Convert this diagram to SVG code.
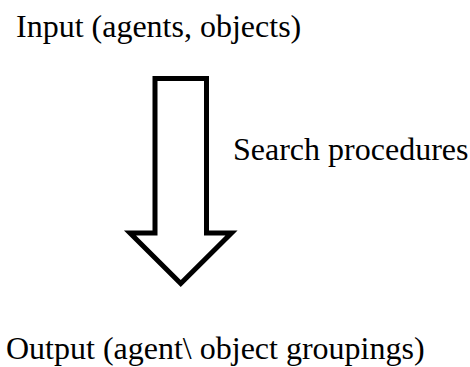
<svg xmlns="http://www.w3.org/2000/svg" width="470" height="367" viewBox="0 0 470 367">
<style>
.t{font-family:"Liberation Serif","Times New Roman",serif;font-size:32px;fill:#000}
.arrow{fill:#fff;stroke:#000;stroke-width:5;stroke-linejoin:miter;stroke-miterlimit:10}
</style>
<rect width="470" height="367" fill="#fff"/>
<g id="input"><text class="t" x="16" y="36.5">Input (agents, objects)</text></g>
<g id="connectors">
<path class="arrow" d="M155,78.5 H206.5 V233 H231.5 L180.75,283.5 L130,233 H155 Z"/>
<text class="t" x="233" y="160">Search procedures</text>
</g>
<g id="output"><text class="t" x="6" y="358.5">Output (agent\ object groupings)</text></g>
</svg>
